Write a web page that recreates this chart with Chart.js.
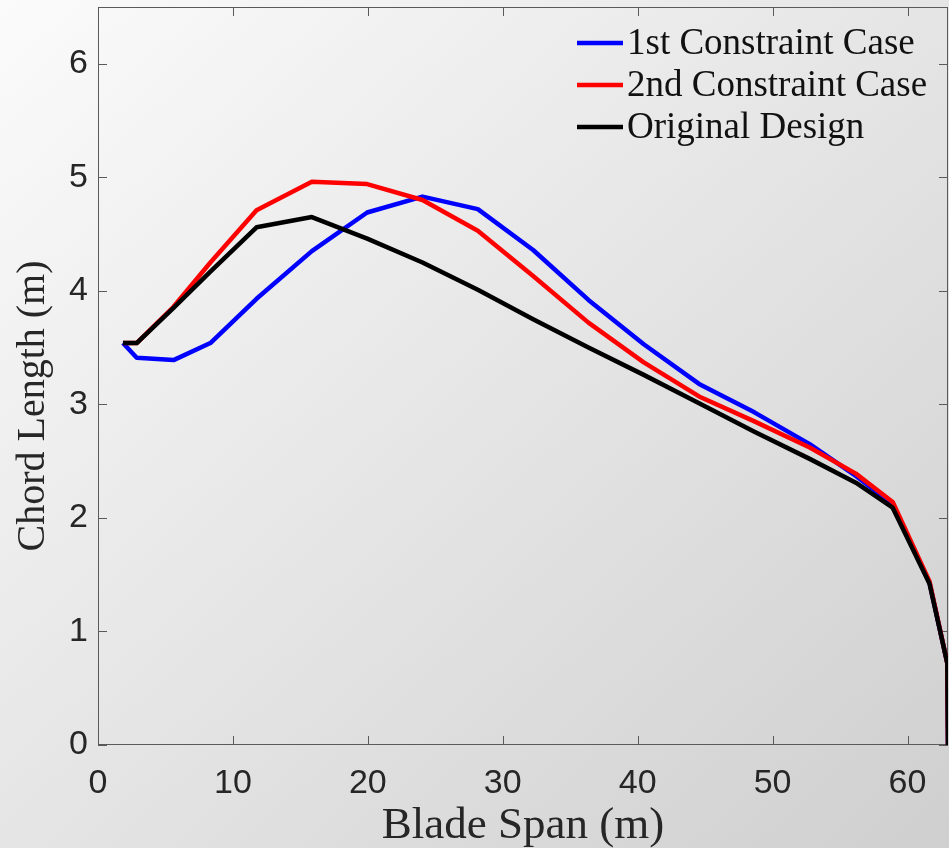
<!DOCTYPE html>
<html>
<head>
<meta charset="utf-8">
<script src="https://cdn.jsdelivr.net/npm/chart.js@4.4.1/dist/chart.umd.min.js"></script>
<style>
  html, body { margin: 0; padding: 0; }
  body {
    width: 949px; height: 848px; overflow: hidden;
    background: linear-gradient(to bottom right, #fbfbfb, #cfcfcf);
  }
  #wrap { width: 949px; height: 848px; }
</style>
</head>
<body>
<div id="wrap"><canvas id="chordChart"></canvas></div>
<script>
// blade span stations (m)
const span = [1.85, 2.87, 5.6, 8.33, 11.75, 15.85, 19.95, 24.05, 28.15, 32.25, 36.35, 40.45, 44.55, 48.65, 52.75, 56.17, 58.9, 61.63, 62.95, 63];

// chord length (m)
const chordCase1 = [3.54, 3.41, 3.39, 3.54, 3.93, 4.35, 4.69, 4.83, 4.72, 4.36, 3.92, 3.53, 3.18, 2.93, 2.65, 2.37, 2.12, 1.43, 0.72, 0];
const chordCase2 = [3.54, 3.54, 3.86, 4.25, 4.71, 4.96, 4.94, 4.80, 4.53, 4.13, 3.72, 3.37, 3.07, 2.85, 2.62, 2.39, 2.14, 1.44, 0.72, 0];
const chordOrig  = [3.54, 3.54, 3.85, 4.17, 4.56, 4.65, 4.46, 4.25, 4.01, 3.75, 3.50, 3.26, 3.01, 2.76, 2.52, 2.31, 2.09, 1.42, 0.72, 0];

const seriesLabels = ['1st Constraint Case', '2nd Constraint Case', 'Original Design'];
const xTicks = [0, 10, 20, 30, 40, 50, 60];
const yTicks = [0, 1, 2, 3, 4, 5, 6];

const toPoints = (ys) => span.map((x, i) => ({ x: x, y: ys[i] }));

const tickFont = { family: 'Liberation Sans, Arial, sans-serif', size: 34 };
const serif = 'Liberation Serif, Times New Roman, serif';

// MATLAB-like box with inward ticks on all four sides
const boxPlugin = {
    id: 'box',
    beforeDatasetsDraw(chart) {
        const { ctx, chartArea: a, scales } = chart;
        ctx.save();
        ctx.strokeStyle = '#5a5a5a';
        ctx.lineWidth = 1;
        ctx.strokeRect(a.left + 0.5, a.top + 0.5, a.right - a.left - 1, a.bottom - a.top - 1);
        const len = 9;
        ctx.beginPath();
        xTicks.forEach(v => {
            const px = Math.round(scales.x.getPixelForValue(v)) + 0.5;
            ctx.moveTo(px, a.bottom); ctx.lineTo(px, a.bottom - len);
            ctx.moveTo(px, a.top); ctx.lineTo(px, a.top + len);
        });
        yTicks.forEach(v => {
            const py = Math.round(scales.y.getPixelForValue(v)) + 0.5;
            ctx.moveTo(a.left, py); ctx.lineTo(a.left + len, py);
            ctx.moveTo(a.right, py); ctx.lineTo(a.right - len, py);
        });
        ctx.stroke();
        ctx.restore();
    },
    afterDraw(chart) {
        // legend in the upper right corner, no frame
        const { ctx } = chart;
        ctx.save();
        ctx.font = '37px "Liberation Serif", "Times New Roman", serif';
        ctx.textBaseline = 'alphabetic';
        ctx.fillStyle = '#111';
        chart.data.datasets.forEach((ds, i) => {
            const y = 43 + i * 42;
            ctx.strokeStyle = ds.borderColor;
            ctx.lineWidth = 4.5;
            ctx.beginPath();
            ctx.moveTo(577, y); ctx.lineTo(623, y);
            ctx.stroke();
            ctx.fillText(ds.label, 627, y + 11);
        });
        ctx.restore();
    }
};

new Chart(document.getElementById('chordChart'), {
    type: 'line',
    data: {
        datasets: [
            { label: seriesLabels[0], data: toPoints(chordCase1), borderColor: '#0000ff', order: 3 },
            { label: seriesLabels[1], data: toPoints(chordCase2), borderColor: '#ff0000', order: 2 },
            { label: seriesLabels[2], data: toPoints(chordOrig), borderColor: '#000000', order: 1 }
        ]
    },
    options: {
        responsive: true,
        maintainAspectRatio: false,
        animation: false,
        layout: { padding: { top: 7, right: 1, left: 0, bottom: 0 } },
        elements: {
            line: { borderWidth: 4.5, tension: 0, borderJoinStyle: 'round', fill: false },
            point: { radius: 0, hoverRadius: 0 }
        },
        plugins: {
            legend: { display: false },
            tooltip: { enabled: false }
        },
        scales: {
            x: {
                type: 'linear',
                min: 0,
                max: 63,
                grid: { display: false, drawTicks: false },
                border: { display: false },
                ticks: { stepSize: 10, font: tickFont, color: '#262626', padding: 18, maxRotation: 0 },
                afterBuildTicks: (s) => { s.ticks = xTicks.map(v => ({ value: v })); },
                afterFit: (s) => { s.height = 103; s.paddingLeft = 0; s.paddingRight = 0; },
                title: { display: true, text: 'Blade Span (m)', font: { family: serif, size: 45, lineHeight: 1 }, color: '#262626', padding: { top: 0, bottom: -1 } }
            },
            y: {
                min: 0,
                max: 6.5,
                grid: { display: false, drawTicks: false },
                border: { display: false },
                ticks: { stepSize: 1, font: tickFont, color: '#262626', padding: 10 },
                afterBuildTicks: (s) => { s.ticks = yTicks.map(v => ({ value: v })); },
                afterFit: (s) => { s.width = 98; s.paddingTop = 0; s.paddingBottom = 0; },
                title: { display: true, text: 'Chord Length (m)      ', font: { family: serif, size: 40, lineHeight: 1 }, color: '#262626', padding: { top: 13, bottom: 0 } }
            }
        }
    },
    plugins: [boxPlugin]
});
</script>
</body>
</html>
